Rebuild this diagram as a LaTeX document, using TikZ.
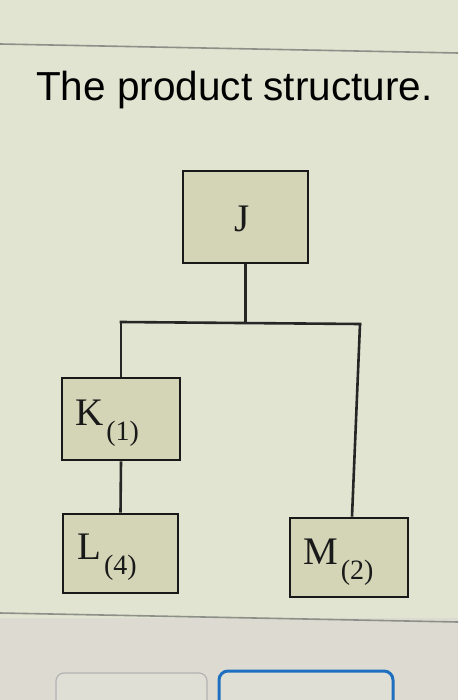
\documentclass[tikz,border=0pt]{standalone}
\usepackage{fontspec}
\setmainfont{Liberation Serif}
\newfontfamily\titlefont{Liberation Sans}
\definecolor{bgtop}{HTML}{E0E4D0}
\definecolor{bgbot}{HTML}{DDDBD1}
\definecolor{boxfill}{HTML}{D3D5B6}
\definecolor{rulegray}{HTML}{8C9088}
\definecolor{btnblue}{HTML}{1E6FC0}
\newcommand{\subq}[1]{\hspace{3pt}\raisebox{-15pt}{\fontsize{28}{28}\selectfont #1}}
\begin{document}
\begin{tikzpicture}[x=1pt,y=-1pt,
  partbox/.style={draw=black!90, line width=2.6pt, fill=boxfill, inner sep=0pt},
  lbl/.style={font=\fontsize{39}{39}\selectfont, inner sep=0pt, text=black!90},
  link/.style={draw=black!85, line width=2.6pt},
  ruleline/.style={draw=rulegray, line width=1.6pt}]
\useasboundingbox (0,0) rectangle (458,700);
\fill[bgtop] (0,0) rectangle (458,700);
\fill[bgbot] (0,618) rectangle (458,700);
\draw[ruleline] (0,44) -- (458,53);
\draw[ruleline] (0,613) -- (458,622);
% title
\node[font=\titlefont\fontsize{40.5}{40.5}\selectfont, anchor=base west, inner sep=0pt] (title) at (36,101) {The product structure.};
% boxes
\node[partbox, minimum width=125pt, minimum height=92pt] (J) at (245.5,217) {};
\node[partbox, minimum width=118pt, minimum height=82pt] (K) at (121,419) {};
\node[partbox, minimum width=115pt, minimum height=79pt] (L) at (120.5,553.5) {};
\node[partbox, minimum width=118pt, minimum height=79pt] (M) at (349,557.5) {};
% labels
\node[lbl, anchor=base] (Jt) at (242,232) {J};
\node[lbl, anchor=base west] (Kt) at (75,425) {K\subq{(1)}};
\node[lbl, anchor=base west] (Lt) at (77,559) {L\subq{(4)}};
\node[lbl, anchor=base west] (Mt) at (303,564) {M\subq{(2)}};
% connectors
\coordinate (hl) at (121,322);
\coordinate (hr) at (360,324);
\draw[link] (J.south) -- (J.south |- hl);
\draw[link, line cap=rect] (hl) -- (hr);
\draw[link] (hl) -- (K.north);
\draw[link] (hr) -- (M.north -| 352,0);
\draw[link] (K.south) -- (L.north);
% buttons (partly visible)
\begin{scope}
\clip (0,0) rectangle (458,700);
\draw[draw=black!30, line width=1.2pt, fill=bgbot!90!white, rounded corners=8pt] (56,673) rectangle (207,720);
\draw[draw=btnblue, line width=3pt, fill=bgbot!90!white, rounded corners=9pt] (219,671) rectangle (393,720);
\end{scope}
\end{tikzpicture}
\end{document}
